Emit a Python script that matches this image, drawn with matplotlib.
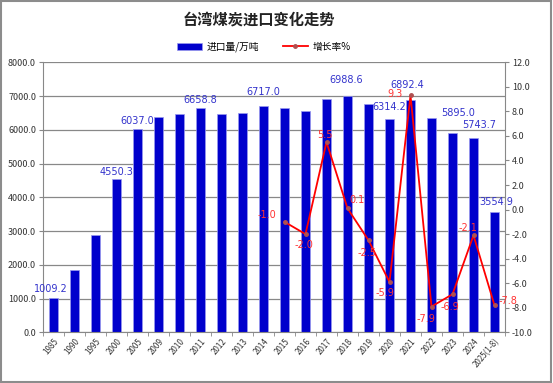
import numpy as np
import matplotlib
matplotlib.use('Agg')
from matplotlib import pyplot as plt
from matplotlib.patches import Rectangle

plt.rcParams['font.family'] = ['Noto Sans CJK SC', 'DejaVu Sans']

years = ['1985', '1990', '1995', '2000', '2005', '2009', '2010', '2011', '2012', '2013',
         '2014', '2015', '2016', '2017', '2018', '2019', '2020', '2021', '2022', '2023',
         '2024', '2025(1-8)']
imports = [1009.2, 1850, 2880, 4550.3, 6037.0, 6388, 6478, 6658.8, 6458, 6498,
           6717.0, 6660, 6555, 6922, 6988.6, 6765, 6314.2, 6892.4, 6335, 5895.0,
           5743.7, 3554.9]
growth_years = ['2015', '2016', '2017', '2018', '2019', '2020', '2021', '2022', '2023', '2024', '2025(1-8)']
growth = [-1.0, -2.0, 5.5, 0.1, -2.5, -5.9, 9.3, -7.9, -6.9, -2.1, -7.8]
labeled_bars = ['1985', '2000', '2005', '2011', '2014', '2018', '2020', '2021', '2023', '2024', '2025(1-8)']

# label offsets (points) -- bar labels and growth labels
b_off = [(-2, 3), (0, 1), (0, 2), (0, 1.5), (0, 6), (-1, 8), (0, 5), (-2, 7), (4, 11), (4, 6), (1, 4)]
g_off = [(-13, 5), (-1, -8), (-1, 5), (7, 6), (-1, -9), (-3, -8), (-11, 1), (-4, -9), (-2, -9), (-4, 5), (10, 3)]

fig = plt.figure(figsize=(5.53, 3.83), dpi=100)
fig.patches.append(Rectangle((0.002, 0.003), 0.995, 0.994, transform=fig.transFigure,
                             fill=False, edgecolor='#8c8c8c', linewidth=1.5))
ax = fig.add_axes([43 / 553, 1 - 332.3 / 383, 462 / 553, 270 / 383])
x = np.arange(len(years))
bars = ax.bar(x, imports, width=0.42, color='#0000cc', edgecolor='#9999ee', linewidth=0.5,
              label='进口量/万吨', zorder=2)
ax.set_xlim(-0.5, len(years) - 0.5)
ax.set_ylim(0, 8000)
ax.set_yticks(np.arange(0, 8001, 1000))
ax.set_yticklabels(['%.1f' % v for v in np.arange(0, 8001, 1000)], fontsize=6.5, color='#333333')
ax.set_xticks(x)
ax.set_xticklabels(years, rotation=50, ha='right', rotation_mode='anchor', fontsize=5.8, color='#333333')
ax.set_xticks(np.arange(-0.5, len(years)), minor=True)
ax.tick_params(axis='x', which='major', length=0, pad=3)
ax.tick_params(axis='x', which='minor', length=3, color='#888888')
ax.tick_params(axis='y', length=3, color='#888888', pad=2)
ax.grid(axis='y', color='#888888', linewidth=0.9, zorder=0)
for s in ['top', 'right']:
    ax.spines[s].set_visible(False)
for s in ['left', 'bottom']:
    ax.spines[s].set_color('#888888')

for yr, off in zip(labeled_bars, b_off):
    i = years.index(yr)
    v = imports[i]
    ax.annotate('%.1f' % v, (i, v), xytext=off, textcoords='offset points',
                ha='center', va='bottom', fontsize=7, color='#3333cc', family='DejaVu Sans', zorder=4)

ax2 = ax.twinx()
gx = [years.index(y) for y in growth_years]
ax2.plot(gx, growth, color='#ff0000', linewidth=1.3, marker='o', markersize=2.5,
         markerfacecolor='#b05050', markeredgecolor='#b05050', label='增长率%', zorder=3)
ax2.set_ylim(-10, 12)
ax2.set_yticks(np.arange(-10, 12.1, 2))
ax2.set_yticklabels(['%.1f' % v for v in np.arange(-10, 12.1, 2)], fontsize=6.5, color='#333333')
ax2.tick_params(axis='y', length=3, color='#888888', pad=2)
for s in ['top', 'left', 'bottom']:
    ax2.spines[s].set_visible(False)
ax2.spines['right'].set_color('#888888')
for xi, g, off in zip(gx, growth, g_off):
    ax2.annotate('%.1f' % g, (xi, g), xytext=off, textcoords='offset points',
                 ha='center', va='center', fontsize=7, color='#ff3333', family='DejaVu Sans')

fig.text(259 / 553, 1 - 20 / 383, '台湾煤炭进口变化走势', ha='center', va='center', fontsize=11,
         fontweight='bold', color='#222222')
h1, l1 = ax.get_legend_handles_labels()
h2, l2 = ax2.get_legend_handles_labels()
fig.legend(h1 + h2, l1 + l2, loc='center', bbox_to_anchor=(264 / 553, 1 - 47 / 383), ncol=2,
           frameon=False, fontsize=7, handlelength=2.5, columnspacing=2.5, handletextpad=0.5)

fig.savefig('out.png', dpi=100)
